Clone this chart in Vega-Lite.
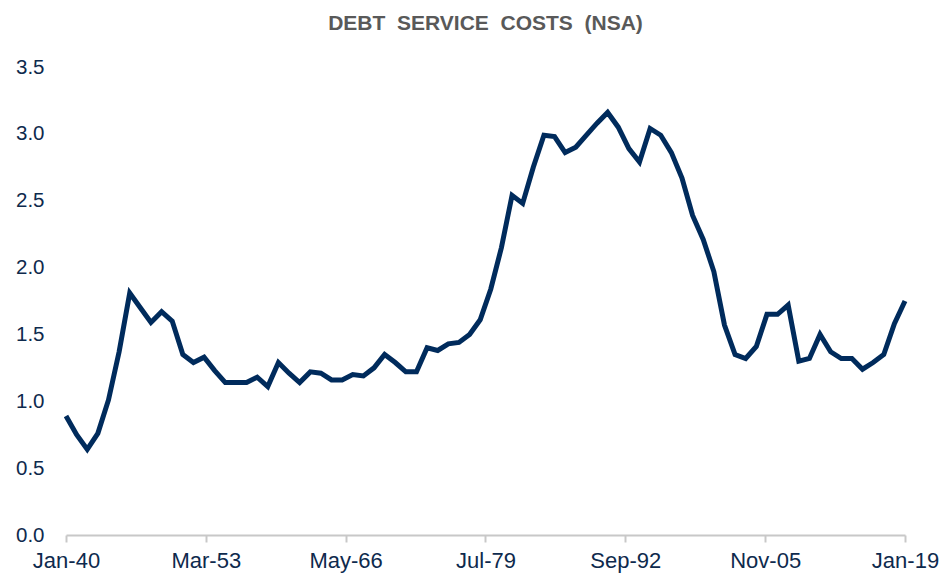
{
  "$schema": "https://vega.github.io/schema/vega-lite/v6.json",
  "width": 839,
  "height": 468,
  "autosize": {"type": "none"},
  "padding": {"left": 66, "top": 67, "right": 38, "bottom": 38},
  "background": "white",
  "title": {
    "text": "DEBT\u00a0\u00a0SERVICE\u00a0\u00a0COSTS\u00a0\u00a0(NSA)",
    "fontSize": 21,
    "fontWeight": "bold",
    "font": "Liberation Sans",
    "color": "#595959",
    "anchor": "middle",
    "offset": 23
  },
  "config": {"view": {"stroke": null}},
  "data": {
    "values": [
      {"date": "1940-01-01", "v": 0.89}, {"date": "1941-01-01", "v": 0.75}, {"date": "1942-01-01", "v": 0.64},
      {"date": "1943-01-01", "v": 0.76}, {"date": "1944-01-01", "v": 1.01}, {"date": "1945-01-01", "v": 1.37},
      {"date": "1946-01-01", "v": 1.81}, {"date": "1947-01-01", "v": 1.70}, {"date": "1948-01-01", "v": 1.59},
      {"date": "1949-01-01", "v": 1.67}, {"date": "1950-01-01", "v": 1.60}, {"date": "1951-01-01", "v": 1.35},
      {"date": "1952-01-01", "v": 1.29}, {"date": "1953-01-01", "v": 1.33}, {"date": "1954-01-01", "v": 1.23},
      {"date": "1955-01-01", "v": 1.14}, {"date": "1956-01-01", "v": 1.14}, {"date": "1957-01-01", "v": 1.14},
      {"date": "1958-01-01", "v": 1.18}, {"date": "1959-01-01", "v": 1.11}, {"date": "1960-01-01", "v": 1.29},
      {"date": "1961-01-01", "v": 1.21}, {"date": "1962-01-01", "v": 1.14}, {"date": "1963-01-01", "v": 1.22},
      {"date": "1964-01-01", "v": 1.21}, {"date": "1965-01-01", "v": 1.16}, {"date": "1966-01-01", "v": 1.16},
      {"date": "1967-01-01", "v": 1.20}, {"date": "1968-01-01", "v": 1.19}, {"date": "1969-01-01", "v": 1.25},
      {"date": "1970-01-01", "v": 1.35}, {"date": "1971-01-01", "v": 1.29}, {"date": "1972-01-01", "v": 1.22},
      {"date": "1973-01-01", "v": 1.22}, {"date": "1974-01-01", "v": 1.40}, {"date": "1975-01-01", "v": 1.38},
      {"date": "1976-01-01", "v": 1.43}, {"date": "1977-01-01", "v": 1.44}, {"date": "1978-01-01", "v": 1.50},
      {"date": "1979-01-01", "v": 1.61}, {"date": "1980-01-01", "v": 1.84}, {"date": "1981-01-01", "v": 2.15},
      {"date": "1982-01-01", "v": 2.54}, {"date": "1983-01-01", "v": 2.48}, {"date": "1984-01-01", "v": 2.75},
      {"date": "1985-01-01", "v": 2.99}, {"date": "1986-01-01", "v": 2.98}, {"date": "1987-01-01", "v": 2.86},
      {"date": "1988-01-01", "v": 2.90}, {"date": "1989-01-01", "v": 2.99}, {"date": "1990-01-01", "v": 3.08},
      {"date": "1991-01-01", "v": 3.16}, {"date": "1992-01-01", "v": 3.05}, {"date": "1993-01-01", "v": 2.89},
      {"date": "1994-01-01", "v": 2.79}, {"date": "1995-01-01", "v": 3.04}, {"date": "1996-01-01", "v": 2.99},
      {"date": "1997-01-01", "v": 2.86}, {"date": "1998-01-01", "v": 2.67}, {"date": "1999-01-01", "v": 2.39},
      {"date": "2000-01-01", "v": 2.21}, {"date": "2001-01-01", "v": 1.97}, {"date": "2002-01-01", "v": 1.57},
      {"date": "2003-01-01", "v": 1.35}, {"date": "2004-01-01", "v": 1.32}, {"date": "2005-01-01", "v": 1.41},
      {"date": "2006-01-01", "v": 1.65}, {"date": "2007-01-01", "v": 1.65}, {"date": "2008-01-01", "v": 1.72},
      {"date": "2009-01-01", "v": 1.30}, {"date": "2010-01-01", "v": 1.32}, {"date": "2011-01-01", "v": 1.50},
      {"date": "2012-01-01", "v": 1.37}, {"date": "2013-01-01", "v": 1.32}, {"date": "2014-01-01", "v": 1.32},
      {"date": "2015-01-01", "v": 1.24}, {"date": "2016-01-01", "v": 1.29}, {"date": "2017-01-01", "v": 1.35},
      {"date": "2018-01-01", "v": 1.58}, {"date": "2019-01-01", "v": 1.75}
    ]
  },
  "mark": {"type": "line", "color": "#002B5C", "strokeWidth": 5, "strokeJoin": "miter", "clip": false},
  "encoding": {
    "x": {
      "field": "date",
      "type": "temporal",
      "scale": {
        "type": "utc",
        "domain": [
          {"year": 1940, "month": 1, "date": 1, "utc": true},
          {"year": 2019, "month": 1, "date": 1, "utc": true}
        ]
      },
      "axis": {
        "title": null,
        "values": [
          {"year": 1940, "month": 1, "date": 1, "utc": true},
          {"year": 1953, "month": 3, "date": 1, "utc": true},
          {"year": 1966, "month": 5, "date": 1, "utc": true},
          {"year": 1979, "month": 7, "date": 1, "utc": true},
          {"year": 1992, "month": 9, "date": 1, "utc": true},
          {"year": 2005, "month": 11, "date": 1, "utc": true},
          {"year": 2019, "month": 1, "date": 1, "utc": true}
        ],
        "labelExpr": "utcFormat(datum.value, '%b-%y')",
        "grid": false,
        "domainColor": "#C8C8C8",
        "domainWidth": 2,
        "tickColor": "#C8C8C8",
        "tickWidth": 2,
        "tickSize": 7,
        "labelPadding": 8,
        "labelFont": "Liberation Sans",
        "labelFontSize": 22,
        "labelColor": "#0E2A4D",
        "labelFlush": false,
        "labelOverlap": false
      }
    },
    "y": {
      "field": "v",
      "type": "quantitative",
      "scale": {"domain": [0, 3.5], "nice": false},
      "axis": {
        "title": null,
        "values": [0, 0.5, 1, 1.5, 2, 2.5, 3, 3.5],
        "format": ".1f",
        "grid": false,
        "domain": false,
        "ticks": false,
        "labelPadding": 22,
        "labelFont": "Liberation Sans",
        "labelFontSize": 20.5,
        "labelColor": "#0E2A4D"
      }
    }
  }
}
